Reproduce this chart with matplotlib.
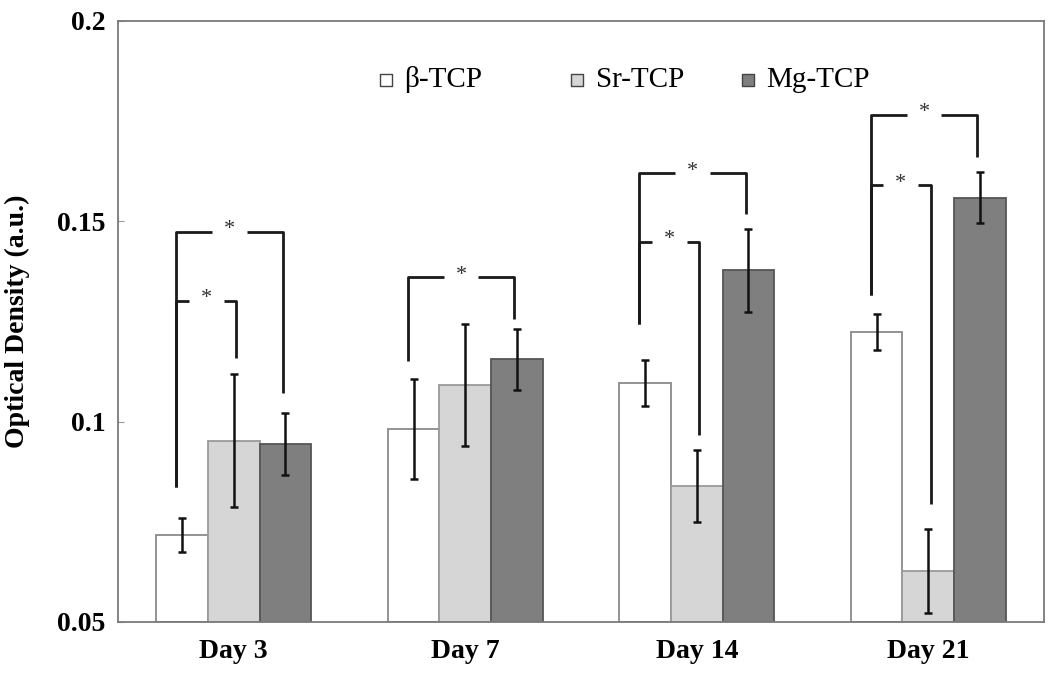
import matplotlib
matplotlib.use("Agg")
import matplotlib.pyplot as plt
import numpy as np

plt.rcParams['font.family'] = ['Liberation Serif', 'DejaVu Serif']

# data
days = ["Day 3", "Day 7", "Day 14", "Day 21"]
series = ["β-TCP", "Sr-TCP", "Mg-TCP"]
beta_tcp = [0.0717, 0.0981, 0.1096, 0.1223]
beta_err = [0.0042, 0.0125, 0.0058, 0.0045]
sr_tcp = [0.0952, 0.1091, 0.0839, 0.0627]
sr_err = [0.0166, 0.0152, 0.0090, 0.0105]
mg_tcp = [0.0944, 0.1155, 0.1377, 0.1559]
mg_err = [0.0077, 0.0075, 0.0103, 0.0064]

# significance brackets: (day, left series, right series, top, left bottom, right bottom)
brackets = [
    (0, 0, 2, 0.1474, 0.0836, 0.1071),
    (0, 0, 1, 0.1302, 0.0836, 0.1158),
    (1, 0, 2, 0.1360, 0.1150, 0.1255),
    (2, 0, 2, 0.1621, 0.1243, 0.1519),
    (2, 0, 1, 0.1449, 0.1243, 0.0966),
    (3, 0, 2, 0.1766, 0.1315, 0.1661),
    (3, 0, 1, 0.1591, 0.1315, 0.0794),
]

FILLS = ["white", "#d6d6d6", "#7f7f7f"]
EDGES = ["#8a8a8a", "#9a9a9a", "#555555"]
ANCHO = 0.223
# small horizontal shifts of bracket legs relative to bar centres
DESPLAZA = [-0.025, 0.01, -0.012]

fig = plt.figure(figsize=(10.5, 6.74), dpi=100)
ax = fig.add_axes([0.1124, 0.0772, 0.8819, 0.8920])

x = np.arange(len(days))
valores = [beta_tcp, sr_tcp, mg_tcp]
errores = [beta_err, sr_err, mg_err]
for i, (vals, errs) in enumerate(zip(valores, errores)):
    pos = x + (i - 1) * ANCHO
    ax.bar(pos, np.array(vals) - 0.05, ANCHO, bottom=0.05, color=FILLS[i],
           edgecolor=EDGES[i], linewidth=1.3, zorder=2)
    ax.errorbar(pos, vals, yerr=errs, fmt="none", ecolor="#111111",
                elinewidth=1.8, capsize=3, capthick=1.8, zorder=3)

# brackets with a star in a gap
for d, s1, s2, top, b1, b2 in brackets:
    x1 = d + (s1 - 1) * ANCHO + DESPLAZA[s1]
    x2 = d + (s2 - 1) * ANCHO + DESPLAZA[s2]
    xm = (x1 + x2) / 2
    gap = 0.075
    kw = dict(color="#1a1a1a", linewidth=2, solid_capstyle="butt", zorder=4)
    ax.plot([x1, x1, xm - gap], [b1, top, top], **kw)
    ax.plot([xm + gap, x2, x2], [top, top, b2], **kw)
    ax.text(xm, top + 0.0004, "*", ha="center", va="center", fontsize=16,
            color="#333333")

# legend drawn by hand to keep the uneven spacing
leyenda_x = [386, 577, 748]
for i, nombre in enumerate(series):
    xf = (leyenda_x[i] - 118) / 926
    ax.scatter([xf], [0.902], marker="s", s=75, facecolor=FILLS[i],
               edgecolor="#444444", linewidth=1.0, transform=ax.transAxes,
               zorder=5, clip_on=False)
    ax.text(xf + 0.02, 0.902, nombre, transform=ax.transAxes, ha="left",
            va="center", fontsize=21)

ax.set_xlim(-0.5, 3.5)
ax.set_ylim(0.05, 0.2)
ax.set_xticks(x)
ax.set_xticklabels(days, fontsize=20, fontweight="bold")
ax.set_yticks([0.05, 0.1, 0.15, 0.2])
ax.set_yticklabels(["0.05", "0.1", "0.15", "0.2"], fontsize=20, fontweight="bold")
ax.tick_params(axis="x", length=0, pad=12)
ax.tick_params(axis="y", direction="in", length=4, color="#999999", pad=9)
ax.set_ylabel("Optical Density (a.u.)", fontsize=20, fontweight="bold")
ax.yaxis.set_label_coords(-0.095, 0.5)
for sp in ax.spines.values():
    sp.set_color("#7a7a7a")
    sp.set_linewidth(1.3)

fig.savefig("out.png", dpi=100)
